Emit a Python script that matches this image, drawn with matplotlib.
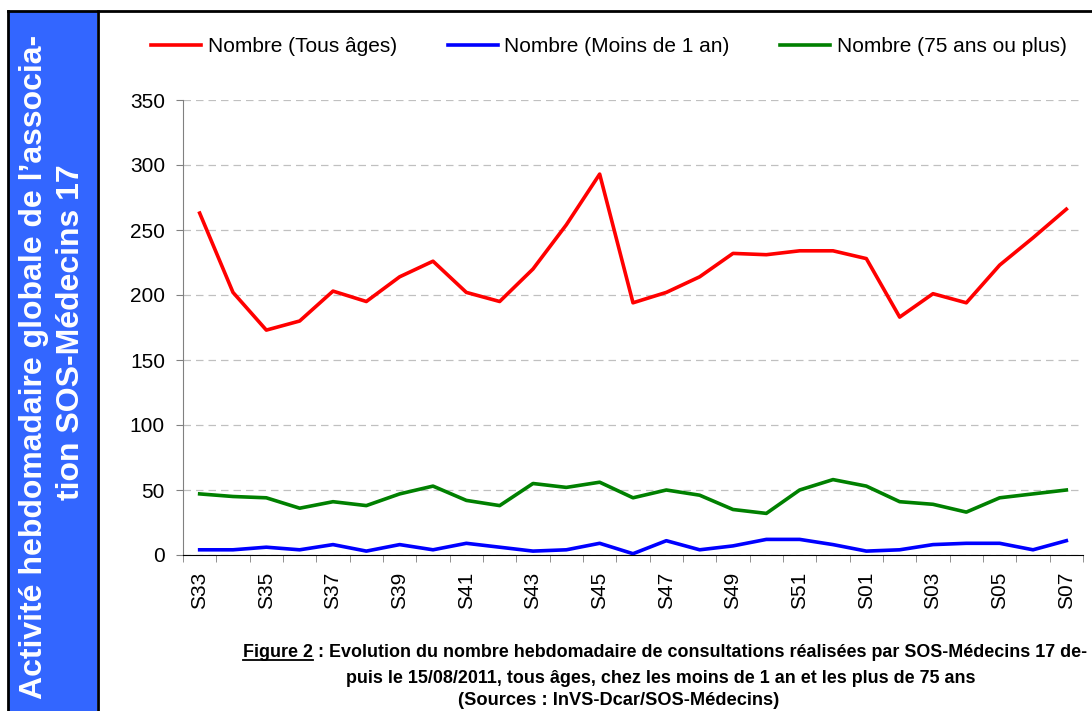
import numpy as np
import matplotlib.pyplot as plt
from matplotlib.lines import Line2D
from matplotlib.patches import Rectangle

weeks = ['S33', 'S34', 'S35', 'S36', 'S37', 'S38', 'S39', 'S40', 'S41', 'S42',
         'S43', 'S44', 'S45', 'S46', 'S47', 'S48', 'S49', 'S50', 'S51', 'S52',
         'S01', 'S02', 'S03', 'S04', 'S05', 'S06', 'S07']
tous_ages = [263, 202, 173, 180, 203, 195, 214, 226, 202, 195, 220, 254, 293, 194,
             202, 214, 232, 231, 234, 234, 228, 183, 201, 194, 223, 244, 266]
moins_1an = [4, 4, 6, 4, 8, 3, 8, 4, 9, 6, 3, 4, 9, 1, 11, 4, 7, 12, 12, 8,
             3, 4, 8, 9, 9, 4, 11]
plus_75ans = [47, 45, 44, 36, 41, 38, 47, 53, 42, 38, 55, 52, 56, 44, 50, 46, 35,
              32, 50, 58, 53, 41, 39, 33, 44, 47, 50]

W, H = 1092, 711
plt.rcParams['font.family'] = ['Liberation Sans', 'DejaVu Sans']
fig = plt.figure(figsize=(W / 100, H / 100), dpi=100)

# axe principal (positions en pixels -> fraction)
ax = fig.add_axes([183 / W, 1 - 555 / H, 900 / W, 455 / H])
x = np.arange(len(weeks))
ax.plot(x, tous_ages, color='#ff0000', lw=2.6, label='Nombre (Tous âges)')
ax.plot(x, moins_1an, color='#0000ff', lw=2.6, label='Nombre (Moins de 1 an)')
ax.plot(x, plus_75ans, color='#008000', lw=2.6, label='Nombre (75 ans ou plus)')

ax.set_xlim(-0.5, len(weeks) - 0.5)
ax.set_ylim(0, 350)
ax.set_yticks(np.arange(0, 351, 50))
ax.yaxis.grid(True, linestyle=(0, (6, 4)), color='#c0c0c0', lw=0.9)
ax.set_axisbelow(True)

ax.set_xticks(x[::2])
ax.set_xticklabels(weeks[::2], rotation=90)
ax.set_xticks(np.arange(-0.5, len(weeks)), minor=True)
ax.tick_params(axis='x', which='major', length=0, pad=12, labelsize=15)
ax.tick_params(axis='x', which='minor', length=5, color='#808080', direction='out')
ax.tick_params(axis='y', length=5, color='#808080', labelsize=15, pad=8)
for s in ['top', 'right']:
    ax.spines[s].set_visible(False)
ax.spines['left'].set_color('#808080')
ax.spines['bottom'].set_color('#000000')

fig.legend(loc='center', bbox_to_anchor=(609 / W, 1 - 47 / H), ncol=3,
           frameon=False, fontsize=15, handlelength=2.4, handletextpad=0.33,
           columnspacing=2.4)

# cadre et bandeau bleu
fig.patches.append(Rectangle((9 / W, 0), 88 / W, 1 - 11 / H, transform=fig.transFigure,
                             facecolor='#3366ff', edgecolor='none'))
fig.lines.append(Line2D([8 / W, 1], [1 - 11 / H, 1 - 11 / H], transform=fig.transFigure,
                        color='black', lw=2))
fig.lines.append(Line2D([8 / W, 8 / W], [0, 1 - 11 / H], transform=fig.transFigure,
                        color='black', lw=2))
fig.lines.append(Line2D([97.5 / W, 97.5 / W], [0, 1 - 11 / H], transform=fig.transFigure,
                        color='black', lw=2))

fig.text(34 / W, 1 - 367 / H, 'Activité hebdomadaire globale de l’associa-',
         rotation=90, color='white', fontsize=23, fontweight='bold',
         ha='center', va='center')
fig.text(71 / W, 1 - 332 / H, 'tion SOS-Médecins 17',
         rotation=90, color='white', fontsize=23, fontweight='bold',
         ha='center', va='center')

# légende de la figure (taille ajustée à la largeur de la ligne de référence)
renderer = fig.canvas.get_renderer()


def fit_size(txt, width_px, size=15):
    tmp = fig.text(0, 0, txt, fontsize=size, fontweight='bold')
    w = tmp.get_window_extent(renderer=renderer).width
    tmp.remove()
    return size * width_px / w


line1 = ('Figure 2 : Evolution du nombre hebdomadaire de consultations '
         'réalisées par SOS-Médecins 17 de-')
line2 = 'puis le 15/08/2011, tous âges, chez les moins de 1 an et les plus de 75 ans'
line3 = '(Sources : InVS-Dcar/SOS-Médecins)'
fs = fit_size(line1, 842)
fs3 = fit_size(line3, 322)

y1 = 1 - 657 / H
x1 = 243 / W
fig.text(x1, y1, line1, fontsize=fs, fontweight='bold', ha='left', va='baseline')
t = fig.text(x1, y1, 'Figure 2', fontsize=fs, fontweight='bold',
             ha='left', va='baseline', alpha=0)
bb = t.get_window_extent(renderer=renderer)
fig.lines.append(Line2D([bb.x0 / W, bb.x1 / W], [y1 - 2.5 / H, y1 - 2.5 / H],
                        transform=fig.transFigure, color='black', lw=1.3))
fig.text(661 / W, 1 - 683 / H, line2, fontsize=fs, fontweight='bold',
         ha='center', va='baseline')
fig.text(619 / W, 1 - 705 / H, line3, fontsize=fs3, fontweight='bold',
         ha='center', va='baseline')

fig.savefig('out.png', dpi=100)
